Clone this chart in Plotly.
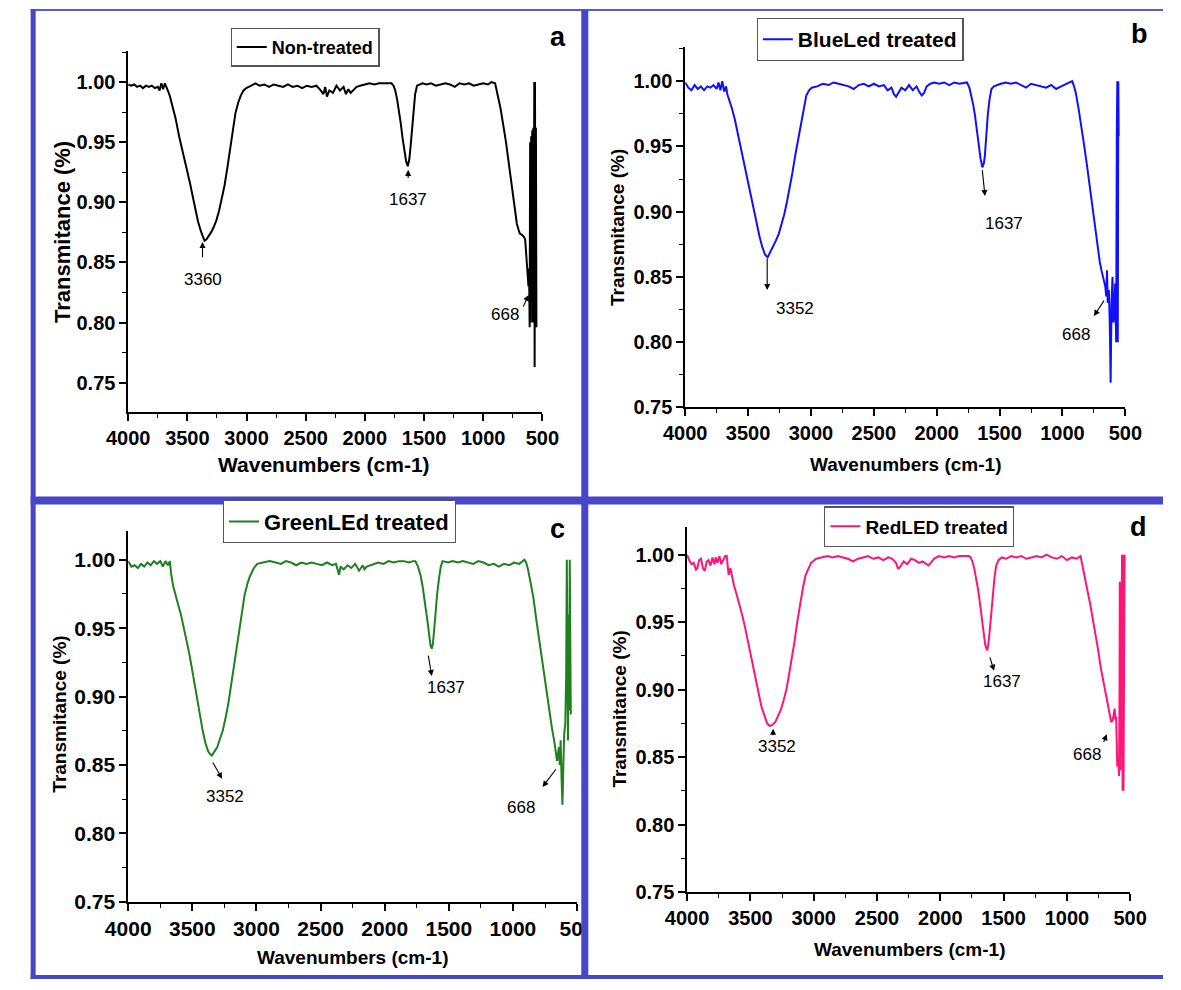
import plotly.graph_objects as go

# ---------------- data ----------------
# Panel a : Non-treated
nt_wn = [4000, 3975, 3950, 3925, 3900, 3875, 3850, 3825, 3800, 3775, 3750, 3735, 3720, 3705, 3690, 3680,
         3665, 3647, 3630, 3616, 3600, 3570, 3545, 3524, 3500, 3478, 3455, 3432, 3410, 3386, 3370, 3355, 3340, 3325, 3300, 3279, 3255, 3232, 3210, 3186, 3163, 3140, 3117, 3094, 3070, 3048, 3025, 3002,
         2960, 2925, 2890, 2850, 2810, 2770, 2730, 2690, 2650, 2610, 2570, 2530, 2490, 2450, 2410, 2380, 2350, 2335, 2320, 2300, 2270, 2240, 2210, 2180, 2160, 2140, 2120, 2100, 2070, 2040, 2000, 1960, 1920, 1880, 1840, 1800,
         1774, 1758, 1743, 1728, 1713, 1697, 1682, 1666, 1651, 1637, 1624, 1612, 1600, 1590, 1575, 1559, 1540, 1513,
         1480, 1440, 1400, 1360, 1320, 1280, 1240, 1200, 1160, 1120, 1080, 1040, 1000, 960, 930, 899,
         884, 869, 853, 838, 822, 807, 791, 776, 761, 746, 730, 715, 700, 690, 672, 654, 645, 638, 633, 629, 623, 617,
         612, 607, 603, 598, 594, 590, 585, 580, 576, 572, 568, 565, 562, 558, 554, 550]
nt_tr = [0.998, 0.997, 0.998, 0.996, 0.997, 0.995, 0.997, 0.996, 0.997, 0.995, 0.996, 0.993, 0.999, 0.994, 0.999, 0.997,
         0.993, 0.988, 0.982, 0.977, 0.970, 0.955, 0.945, 0.937, 0.927, 0.916, 0.905, 0.894, 0.884, 0.876, 0.871, 0.868, 0.869, 0.871, 0.875, 0.879, 0.885, 0.893, 0.902, 0.914, 0.928, 0.944, 0.960, 0.974, 0.983, 0.989, 0.993, 0.995,
         0.997, 0.999, 0.997, 0.998, 0.996, 0.998, 0.997, 0.996, 0.998, 0.996, 0.997, 0.995, 0.997, 0.996, 0.997, 0.994, 0.990, 0.996, 0.988, 0.993, 0.991, 0.997, 0.993, 0.996, 0.990, 0.994, 0.991, 0.993, 0.996, 0.997, 0.998, 0.999, 0.998, 0.999, 0.999, 0.999,
         0.999, 0.997, 0.993, 0.986, 0.977, 0.966, 0.954, 0.942, 0.934, 0.930, 0.936, 0.948, 0.963, 0.977, 0.990, 0.997, 0.998, 0.999,
         0.998, 0.999, 0.997, 0.998, 0.999, 0.998, 0.996, 0.999, 0.998, 0.999, 0.997, 0.998, 0.999, 0.998, 1.000, 0.999,
         0.993, 0.986, 0.978, 0.969, 0.960, 0.950, 0.938, 0.926, 0.915, 0.904, 0.893, 0.882, 0.877, 0.874, 0.873, 0.871, 0.869, 0.860, 0.852, 0.844, 0.838, 0.830,
         0.845, 0.796, 0.950, 0.800, 0.955, 0.840, 0.960, 0.800, 0.962, 0.840, 1.000, 0.763, 1.000, 0.796, 0.962, 0.796]

# Panel b : BlueLed treated
bl_wn = [4000, 3975, 3950, 3925, 3900, 3875, 3850, 3825, 3800, 3775, 3750, 3735, 3720, 3705, 3690, 3675, 3665,
         3650, 3628, 3606, 3584, 3562, 3540, 3519, 3497, 3475, 3453, 3431, 3409, 3387, 3365, 3344, 3322, 3300, 3278, 3256, 3234, 3212, 3190, 3169, 3147, 3125, 3103, 3081, 3059, 3037, 3015, 2994,
         2950, 2906, 2860, 2820, 2780, 2740, 2700, 2660, 2620, 2580, 2540, 2500, 2460, 2420, 2390, 2360, 2340, 2323, 2305, 2280, 2250, 2220, 2190, 2160, 2140, 2119, 2100, 2080, 2050, 2020, 1980, 1940, 1900, 1860, 1820, 1780,
         1760, 1740, 1725, 1710, 1696, 1681, 1667, 1652, 1637, 1625, 1617, 1605, 1594, 1580, 1565, 1545, 1521,
         1490, 1450, 1410, 1370, 1330, 1290, 1250, 1210, 1170, 1130, 1090, 1050, 1010, 970, 945, 923,
         908, 894, 872, 850, 828, 806, 784, 762, 740, 719, 704, 690, 675, 660,
         652, 646, 640, 631, 624, 617, 610, 602, 595, 588, 581, 573, 568, 564, 560, 556, 553]
bl_tr = [0.999, 0.995, 0.993, 0.997, 0.994, 0.996, 0.993, 0.996, 0.995, 0.997, 0.994, 0.999, 0.993, 1.000, 0.992, 0.996, 0.990,
         0.986, 0.979, 0.971, 0.961, 0.951, 0.941, 0.931, 0.921, 0.911, 0.900, 0.890, 0.881, 0.873, 0.867, 0.865, 0.869, 0.873, 0.878, 0.883, 0.890, 0.898, 0.908, 0.918, 0.930, 0.943, 0.955, 0.966, 0.978, 0.989, 0.993, 0.995,
         0.996, 0.998, 0.997, 0.999, 0.998, 0.997, 0.996, 0.994, 0.997, 0.998, 0.996, 0.998, 0.996, 0.997, 0.993, 0.995, 0.990, 0.988, 0.991, 0.995, 0.993, 0.997, 0.993, 0.996, 0.992, 0.989, 0.991, 0.996, 0.998, 0.999, 0.998, 0.999, 0.997, 0.999, 0.998, 0.999,
         0.999, 0.995, 0.989, 0.982, 0.974, 0.963, 0.951, 0.941, 0.934, 0.937, 0.943, 0.960, 0.974, 0.986, 0.994, 0.996, 0.997,
         0.998, 0.999, 0.998, 0.999, 0.997, 0.995, 0.998, 0.997, 0.996, 0.995, 0.997, 0.994, 0.996, 0.998, 0.999, 1.000,
         0.996, 0.991, 0.979, 0.966, 0.951, 0.936, 0.920, 0.903, 0.886, 0.870, 0.862, 0.855, 0.849, 0.843,
         0.835, 0.855, 0.830, 0.840, 0.815, 0.769, 0.830, 0.850, 0.815, 0.820, 0.845, 0.800, 0.960, 1.000, 0.800, 1.000, 0.958]

# Panel c : GreenLEd treated
gr_wn = [4000, 3975, 3950, 3925, 3900, 3875, 3850, 3825, 3800, 3775, 3750, 3730, 3710, 3690, 3675,
         3666, 3650, 3632, 3610, 3589, 3568, 3547, 3525, 3504, 3483, 3462, 3440, 3419, 3398, 3377, 3362, 3348, 3327, 3306, 3285, 3263, 3242, 3221, 3200, 3178, 3157, 3136, 3114, 3093, 3072, 3051, 3020, 2994,
         2950, 2895, 2850, 2810, 2770, 2730, 2690, 2650, 2610, 2570, 2530, 2490, 2450, 2410, 2380, 2365, 2356, 2345, 2320, 2290, 2260, 2230, 2200, 2170, 2158, 2140, 2110, 2080, 2050, 2010, 1970, 1930, 1890, 1850, 1810, 1780,
         1761, 1740, 1719, 1705, 1690, 1676, 1662, 1652, 1642, 1633, 1625, 1615, 1605, 1591, 1577, 1563, 1549, 1506,
         1470, 1430, 1390, 1350, 1310, 1270, 1230, 1190, 1150, 1110, 1070, 1030, 990, 950, 925, 911,
         897, 883, 862, 840, 819, 798, 776, 755, 734, 713, 696, 679, 668, 656,
         649, 642, 635, 628, 621, 614, 607, 600, 592, 585, 580, 575, 571, 566, 561, 557, 553, 549]
gr_tr = [0.999, 0.995, 0.996, 0.994, 0.997, 0.995, 0.998, 0.996, 0.999, 0.997, 0.999, 0.995, 0.999, 0.996, 0.999,
         0.990, 0.981, 0.974, 0.967, 0.960, 0.951, 0.943, 0.932, 0.921, 0.909, 0.897, 0.886, 0.875, 0.866, 0.860, 0.858, 0.857, 0.860, 0.863, 0.869, 0.875, 0.884, 0.894, 0.907, 0.921, 0.935, 0.950, 0.962, 0.974, 0.982, 0.988, 0.994, 0.997,
         0.998, 0.999, 0.998, 0.997, 0.999, 0.998, 0.996, 0.998, 0.997, 0.998, 0.997, 0.996, 0.998, 0.996, 0.997, 0.993, 0.989, 0.995, 0.993, 0.996, 0.994, 0.997, 0.992, 0.996, 0.993, 0.995, 0.996, 0.997, 0.998, 0.997, 0.999, 0.998, 0.999, 0.999, 0.998, 0.999,
         0.999, 0.995, 0.988, 0.981, 0.972, 0.962, 0.952, 0.944, 0.937, 0.935, 0.938, 0.948, 0.960, 0.975, 0.986, 0.995, 0.999, 0.998,
         0.999, 0.998, 0.999, 0.998, 0.997, 0.999, 0.998, 0.996, 0.997, 0.995, 0.997, 0.996, 0.998, 0.997, 0.999, 1.000,
         0.998, 0.993, 0.983, 0.972, 0.957, 0.943, 0.929, 0.916, 0.901, 0.887, 0.877, 0.868, 0.860, 0.853,
         0.858, 0.863, 0.850, 0.868, 0.840, 0.821, 0.850, 0.873, 0.880, 0.916, 1.000, 0.895, 0.868, 0.960, 0.890, 1.000, 0.930, 0.887]

# Panel d : RedLED treated
rd_wn = [4000, 3985, 3965, 3948, 3930, 3919, 3905, 3890, 3875, 3861, 3845, 3832, 3815, 3800, 3785, 3774, 3760, 3745, 3730, 3716, 3700, 3687, 3672, 3658,
         3640, 3629, 3607, 3586, 3564, 3542, 3520, 3499, 3477, 3455, 3433, 3412, 3390, 3368, 3347, 3325, 3303, 3282, 3260, 3238, 3216, 3195, 3173, 3151, 3130, 3108, 3086, 3064, 3042, 3021, 2980, 2934,
         2890, 2850, 2810, 2770, 2730, 2690, 2650, 2610, 2570, 2530, 2490, 2450, 2410, 2380, 2350, 2335, 2326, 2310, 2290, 2260, 2230, 2200, 2170, 2140, 2110, 2094, 2075, 2050, 2010, 1970, 1930, 1890, 1850, 1810, 1775,
         1760, 1746, 1732, 1717, 1703, 1688, 1674, 1660, 1645, 1630, 1620, 1610, 1598, 1587, 1572, 1558, 1540, 1514,
         1480, 1440, 1400, 1360, 1320, 1280, 1240, 1200, 1160, 1120, 1080, 1040, 1000, 960, 925, 892,
         878, 863, 841, 819, 798, 776, 754, 732, 711, 689, 675, 660, 650, 640,
         632, 623, 617, 611, 606, 602, 595, 588, 584, 582, 578, 573, 568, 564, 560, 556, 553, 549, 544]
rd_tr = [1.000, 0.996, 0.993, 0.994, 0.989, 0.990, 0.996, 0.997, 0.990, 0.988, 0.995, 0.996, 0.992, 0.998, 0.993, 0.998, 0.994, 0.999, 0.993, 0.996, 0.999, 0.999, 0.985, 0.990,
         0.982, 0.977, 0.970, 0.963, 0.955, 0.946, 0.936, 0.926, 0.915, 0.904, 0.895, 0.887, 0.881, 0.875, 0.873, 0.874, 0.876, 0.880, 0.885, 0.892, 0.900, 0.911, 0.923, 0.936, 0.950, 0.963, 0.975, 0.985, 0.990, 0.994, 0.997, 0.998,
         0.999, 0.998, 0.999, 0.998, 0.997, 0.995, 0.997, 0.998, 0.999, 0.997, 0.998, 0.996, 0.998, 0.997, 0.994, 0.990, 0.990, 0.992, 0.995, 0.993, 0.997, 0.996, 0.994, 0.995, 0.993, 0.992, 0.994, 0.997, 0.999, 0.998, 0.999, 0.998, 0.999, 0.999, 0.999,
         0.998, 0.995, 0.990, 0.983, 0.975, 0.965, 0.953, 0.943, 0.933, 0.929, 0.934, 0.943, 0.957, 0.970, 0.983, 0.992, 0.996, 0.998,
         0.997, 0.999, 0.998, 0.999, 0.997, 0.998, 0.999, 0.998, 1.000, 0.998, 0.997, 0.999, 0.996, 0.998, 0.997, 0.999,
         0.993, 0.985, 0.975, 0.965, 0.954, 0.943, 0.930, 0.916, 0.905, 0.894, 0.887, 0.880, 0.876, 0.877,
         0.880, 0.886, 0.878, 0.880, 0.860, 0.843, 0.850, 0.836, 0.900, 0.980, 0.840, 0.928, 0.930, 1.000, 0.825, 1.000, 0.825, 0.930, 1.000]

series_names = ["Non-treated", "BlueLed treated", "GreenLEd treated", "RedLED treated"]
panel_letters = ["a", "b", "c", "d"]
x_ticks = [4000, 3500, 3000, 2500, 2000, 1500, 1000, 500]
y_ticks = [0.75, 0.80, 0.85, 0.90, 0.95, 1.00]

# peak labels: text, label position (wn, T), arrow tail (wn, T), arrow head (wn, T)
peaks_a = [("3360", 3372, 0.8355, 3372, 0.853, 3372, 0.867),
           ("1637", 1634, 0.902, 1634, 0.919, 1634, 0.927),
           ("668", 818, 0.807, 667, 0.812, 615, 0.823)]
peaks_b = [("3352", 3127, 0.826, 3348, 0.865, 3348, 0.840),
           ("1637", 1464, 0.891, 1639, 0.933, 1616, 0.912),
           ("668", 895, 0.806, 662, 0.833, 750, 0.820)]
peaks_c = [("3352", 3248, 0.827, 3347, 0.853, 3268, 0.840),
           ("1637", 1520, 0.907, 1662, 0.931, 1633, 0.915),
           ("668", 940, 0.819, 656, 0.848, 769, 0.834)]
peaks_d = [("3352", 3293, 0.858, 3321, 0.865, 3321, 0.871),
           ("1637", 1510, 0.906, 1612, 0.925, 1575, 0.914),
           ("668", 844, 0.852, 714, 0.860, 685, 0.867)]

# ---------------- layout helpers ----------------
W, H = 1181, 990
FONT = "Liberation Sans, Arial, sans-serif"
BLUE = "#4646c8"

def fx(p):
    return p / W

def fy(p):
    return 1 - p / H

panels = [
    dict(wn=nt_wn, tr=nt_tr, color="#000000", xd=(109, 538), yd=(52, 417), yr=(0.7253, 1.0255),
         tick=20, peaks=peaks_a, leg=(215, 28), legfont=18, letter=(554, 37),
         ytitle=(41, 235), yfont=22, xtitle=(312, 470), xfont=21),
    dict(wn=bl_wn, tr=bl_tr, color="#1010ff", xd=(686, 1142), yd=(48, 412), yr=(0.75, 1.0258),
         tick=20, peaks=peaks_b, leg=(760, 18), legfont=21, letter=(1157, 34),
         ytitle=(616, 230), yfont=19, xtitle=(914, 470), xfont=19),
    dict(wn=gr_wn, tr=gr_tr, color="#1e801e", xd=(109, 574), yd=(537, 912), yr=(0.75, 1.021),
         tick=21, peaks=peaks_c, leg=(207, 505), legfont=22, letter=(554, 535),
         ytitle=(38, 722), yfont=19, xtitle=(341, 968), xfont=19),
    dict(wn=rd_wn, tr=rd_tr, color="#ff1478", xd=(688, 1147), yd=(533, 902), yr=(0.75, 1.0205),
         tick=20, peaks=peaks_d, leg=(830, 512), legfont=19, letter=(1156, 533),
         ytitle=(617, 717), yfont=19, xtitle=(918, 960), xfont=19),
]

fig = go.Figure()
annotations = []
layout = {}

for i, p in enumerate(panels):
    n = i + 1
    sfx = "" if n == 1 else str(n)
    xa, ya = "x" + sfx, "y" + sfx
    legname = "legend" + sfx
    fig.add_trace(go.Scatter(x=p["wn"], y=p["tr"], mode="lines", name=series_names[i],
                             line=dict(color=p["color"], width=2), xaxis=xa, yaxis=ya,
                             legend=legname, showlegend=True))
    axis_common = dict(showgrid=False, zeroline=False, showline=True, linecolor="black", linewidth=1.6,
                       ticks="outside", ticklen=7, tickwidth=1.6, tickcolor="black",
                       tickfont=dict(family=FONT, size=p["tick"], color="black", weight="bold"))
    layout["xaxis" + sfx] = dict(axis_common, domain=[fx(p["xd"][0]), fx(p["xd"][1])],
                                 range=[4000, 500], tickvals=x_ticks, anchor=ya,
                                 minor=dict(dtick=250, ticklen=4, tickwidth=1.4, tickcolor="black", ticks="outside"))
    layout["yaxis" + sfx] = dict(axis_common, domain=[fy(p["yd"][1]), fy(p["yd"][0])],
                                 range=list(p["yr"]), tickvals=y_ticks, tickformat=".2f", anchor=xa,
                                 minor=dict(dtick=0.025, tick0=0, ticklen=4, tickwidth=1.4, tickcolor="black", ticks="outside"))
    layout[legname] = dict(x=fx(p["leg"][0]), y=fy(p["leg"][1]), xanchor="left", yanchor="top",
                           bgcolor="white", bordercolor="#555555", borderwidth=1.2,
                           font=dict(family=FONT, size=p["legfont"], color="black", weight="bold"),
                           itemwidth=30, tracegroupgap=0)
    # panel letter
    annotations.append(dict(text=panel_letters[i], x=fx(p["letter"][0]), y=fy(p["letter"][1]),
                            xref="paper", yref="paper", xanchor="center", yanchor="middle", showarrow=False,
                            font=dict(family=FONT, size=27, color="black", weight="bold")))
    # axis titles
    annotations.append(dict(text="Transmitance (%)", x=fx(p["ytitle"][0]), y=fy(p["ytitle"][1]),
                            xref="paper", yref="paper", xanchor="center", yanchor="middle",
                            showarrow=False, textangle=-90,
                            font=dict(family=FONT, size=p["yfont"], color="black", weight="bold")))
    annotations.append(dict(text="Wavenumbers (cm-1)", x=fx(p["xtitle"][0]), y=fy(p["xtitle"][1]),
                            xref="paper", yref="paper", xanchor="center", yanchor="middle", showarrow=False,
                            font=dict(family=FONT, size=p["xfont"], color="black", weight="bold")))
    # peak labels and arrows
    for (txt, lx, ly, tx, ty, hx, hy) in p["peaks"]:
        annotations.append(dict(text=txt, x=lx, y=ly, xref=xa, yref=ya, xanchor="center", yanchor="middle",
                                showarrow=False, font=dict(family=FONT, size=17, color="black")))
        annotations.append(dict(text="", x=hx, y=hy, ax=tx, ay=ty, xref=xa, yref=ya,
                                axref=xa, ayref=ya, showarrow=True, arrowhead=2, arrowsize=1.1,
                                arrowwidth=1.1, arrowcolor="black", standoff=0, startstandoff=0))

shapes = [
    # white patch hiding the part of panel c's last tick label cut by the frame
    dict(type="rect", xref="paper", yref="paper", x0=fx(584), x1=fx(616), y0=fy(952), y1=fy(910),
         fillcolor="white", line=dict(width=0), layer="above"),
    dict(type="line", xref="paper", yref="paper", x0=fx(8), x1=fx(1181), y0=fy(10), y1=fy(10),
         line=dict(color="#5a5ad8", width=2), layer="above"),
    dict(type="line", xref="paper", yref="paper", x0=fx(10.5), x1=fx(10.5), y0=fy(9), y1=fy(990),
         line=dict(color=BLUE, width=5), layer="above"),
    dict(type="line", xref="paper", yref="paper", x0=fx(582), x1=fx(582), y0=fy(10), y1=fy(990),
         line=dict(color=BLUE, width=7), layer="above"),
    dict(type="line", xref="paper", yref="paper", x0=fx(8), x1=fx(1181), y0=fy(506), y1=fy(506),
         line=dict(color=BLUE, width=8), layer="above"),
    dict(type="line", xref="paper", yref="paper", x0=fx(8), x1=fx(1181), y0=fy(988), y1=fy(988),
         line=dict(color=BLUE, width=4), layer="above"),
]

fig.update_layout(width=W, height=H, margin=dict(l=0, r=0, t=0, b=0, pad=0),
                  paper_bgcolor="white", plot_bgcolor="white",
                  annotations=annotations, shapes=shapes, **layout)

fig.write_html("out.html")
